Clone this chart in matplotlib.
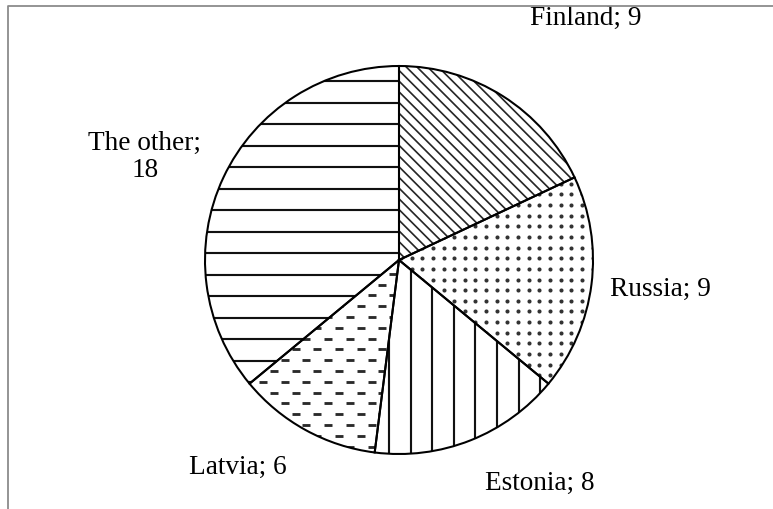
import numpy as np
import matplotlib.pyplot as plt
from matplotlib.collections import LineCollection

W, H, DPI = 773, 509, 128

COUNTRIES = ["Finland", "Russia", "Estonia", "Latvia", "The other"]
VALUES = [9, 9, 8, 6, 18]
LABEL_SEP = ["; ", "; ", "; ", "; ", ";\n"]

# layout in pixels, origin at top-left of the image
PIE_CENTER = (399, 260)
PIE_RADIUS = 194
LABEL_XY = [(586, 18), (660, 289), (540, 483), (238, 467), (145, 157)]

FONT = "Liberation Serif"
FONT_SIZE = 15.3
EDGE_LW = 1.15


def to_data(x, y):
    return np.array([x, H - y], dtype=float)


def add_clipped(ax, lc, patch):
    ax.add_collection(lc)
    lc.set_clip_path(patch)


def line_hatch(ax, patch, direction, spacing, through, lw=1.2, color="#111111"):
    d = np.asarray(direction, dtype=float)
    d /= np.linalg.norm(d)
    n = np.array([-d[1], d[0]])
    p0 = to_data(*through)
    segs = []
    for k in range(-80, 81):
        p = p0 + k * spacing * n
        segs.append([p - 600 * d, p + 600 * d])
    add_clipped(ax, LineCollection(segs, colors=color, linewidths=lw, zorder=2), patch)


def dot_hatch(ax, patch, spacing, through, size=2.3, color="#333333"):
    p0 = to_data(*through)
    k = np.arange(-40, 41)
    gx, gy = np.meshgrid(p0[0] + k * spacing, p0[1] + k * spacing)
    (pts,) = ax.plot(gx.ravel(), gy.ravel(), "o", ms=size, mec="none", mfc=color, zorder=2)
    pts.set_clip_path(patch)


def dash_hatch(ax, patch, row_step, period, dash, through, lw=1.6, color="#2a2a2a"):
    p0 = to_data(*through)
    segs = []
    for j in range(-40, 41):
        y = p0[1] + j * row_step
        shift = (j % 2) * period / 2
        for k in range(-40, 41):
            x = p0[0] + shift + k * period
            segs.append([(x, y), (x + dash, y)])
    add_clipped(ax, LineCollection(segs, colors=color, linewidths=lw, zorder=2), patch)


def main() -> None:
    fig = plt.figure(figsize=(W / DPI, H / DPI), dpi=DPI)
    ax = fig.add_axes([0, 0, 1, 1])

    center = to_data(*PIE_CENTER)
    wedges, _ = ax.pie(
        VALUES,
        startangle=90,
        counterclock=False,
        center=center,
        radius=PIE_RADIUS,
        colors=["white"] * len(VALUES),
        wedgeprops=dict(edgecolor="none", linewidth=0),
    )

    finland, russia, estonia, latvia, other = wedges
    line_hatch(ax, finland, (1, -1), 10.7 / np.sqrt(2), (450, 100), lw=0.95, color="#262626")
    dot_hatch(ax, russia, 10.65, (550, 194.3))
    line_hatch(ax, estonia, (0, 1), 21.6, (389, 300))
    dash_hatch(ax, latvia, 10.8, 21.7, 8, (335, 327.7))
    line_hatch(ax, other, (1, 0), 21.5, (300, 81))

    # outlines on top of the hatching
    ax.pie(
        VALUES,
        startangle=90,
        counterclock=False,
        center=center,
        radius=PIE_RADIUS,
        wedgeprops=dict(fill=False, edgecolor="black", linewidth=EDGE_LW, zorder=3),
    )

    for name, value, sep, (lx, ly) in zip(COUNTRIES, VALUES, LABEL_SEP, LABEL_XY):
        x, y = to_data(lx, ly)
        ax.text(x, y, f"{name}{sep}{value}", family=FONT, fontsize=FONT_SIZE,
                ha="center", va="center", linespacing=1.15, zorder=4)

    # chart-area frame: only the top and left edges fall inside the image
    ax.plot([7.5, 7.5, W + 10], [-10, H - 5.5, H - 5.5], color="#8a8a8a",
            linewidth=1.0, clip_on=False, zorder=5)

    ax.set_xlim(0, W)
    ax.set_ylim(0, H)
    ax.set_aspect("equal")
    ax.axis("off")
    fig.savefig("out.png", dpi=DPI, facecolor="white")
    plt.close(fig)


if __name__ == "__main__":
    main()
